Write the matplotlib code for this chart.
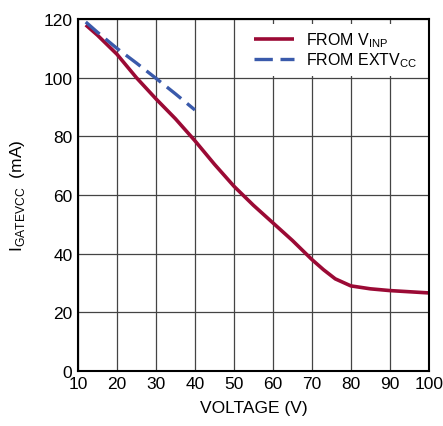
import matplotlib
matplotlib.use('Agg')
import matplotlib.pyplot as plt

# I_GATEVCC vs voltage
vinp_v = [12, 15, 20, 25, 30, 35, 40, 45, 50, 55, 60, 65, 70, 73, 76, 80, 85, 90, 95, 100]
vinp_i = [118, 114.5, 108, 100, 92.8, 86, 78.5, 70.5, 63, 56.5, 50.5, 44.5, 38, 34.5, 31.4, 29, 28, 27.4, 27, 26.6]

extv_v = [12, 15, 20, 25, 30, 35, 40]
extv_i = [119, 115.5, 110, 105, 99.8, 94.5, 89]

plt.rcParams['font.family'] = ['Liberation Sans', 'DejaVu Sans']
plt.rcParams['mathtext.fontset'] = 'custom'
plt.rcParams['mathtext.rm'] = 'Liberation Sans'

fig = plt.figure(figsize=(4.43, 4.27), dpi=100)
ax = fig.add_axes([0.176, 0.129, 0.792, 0.824])

ax.plot(vinp_v, vinp_i, color='#9b0a35', lw=2.6, solid_capstyle='butt',
        label=r'FROM V$_{\mathregular{INP}}$')
ax.plot(extv_v, extv_i, color='#3a5aab', lw=2.4, dashes=(5.5, 2.3),
        label=r'FROM EXTV$_{\mathregular{CC}}$')

ax.set_xlim(10, 100)
ax.set_ylim(0, 120)
ax.set_xticks(range(10, 101, 10))
ax.set_yticks(range(0, 121, 20))
ax.grid(True, color='#444444', lw=0.9)
ax.set_axisbelow(True)
ax.tick_params(length=0, labelsize=12.5, pad=4)
for s in ax.spines.values():
    s.set_linewidth(1.5)

ax.set_xlabel('VOLTAGE (V)', fontsize=12.5, labelpad=6)
ax.set_ylabel(r'I$_{\mathregular{GATEVCC}}$  (mA)', fontsize=12.5, labelpad=12)

leg = ax.legend(loc='upper right', frameon=True, fontsize=11.5, handlelength=2.5,
                handletextpad=0.8, borderaxespad=0.3, labelspacing=0.1,
                fancybox=False, edgecolor='none')
leg.get_frame().set_facecolor('white')
leg.get_frame().set_alpha(1)

fig.savefig('out.png', dpi=100)
